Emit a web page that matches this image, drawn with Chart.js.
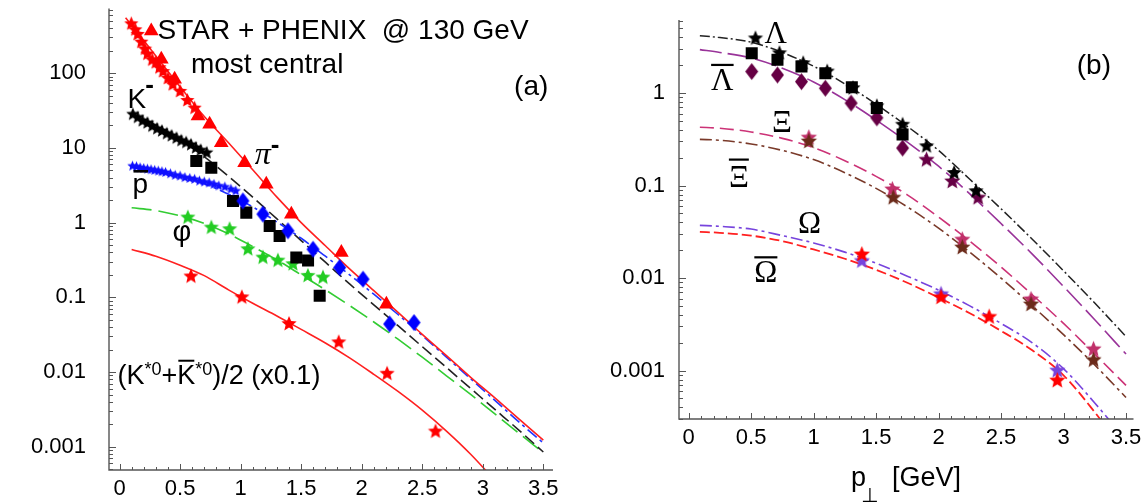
<!DOCTYPE html>
<html><head><meta charset="utf-8">
<script src="https://cdn.jsdelivr.net/npm/chart.js@4.4.0/dist/chart.umd.min.js"></script>
<style>
html,body{margin:0;padding:0;background:#fff;}
#wrap{position:relative;width:1142px;height:504px;overflow:hidden;}
.box{position:absolute;top:0;width:571px;height:504px;}
#ba{left:0;} #bb{left:571px;}
</style></head><body>
<div id="wrap"><div class="box" id="ba"><canvas id="ca" width="571" height="504"></canvas></div><div class="box" id="bb"><canvas id="cb" width="571" height="504"></canvas></div></div>
<script>
// ================= Panel (a) data =================
const xTickValuesA = [0, 0.5, 1, 1.5, 2, 2.5, 3, 3.5];
const xTickLabelsA = ['0', '0.5', '1', '1.5', '2', '2.5', '3', '3.5'];
const yTickValuesA = [0.001, 0.01, 0.1, 1, 10, 100];
const yTickLabelsA = ['0.001', '0.01', '0.1', '1', '10', '100'];

// pi- : stars (STAR) and triangles (PHENIX)
const piStarX = [0.097, 0.13, 0.15, 0.18, 0.21, 0.23, 0.27, 0.30, 0.33, 0.36, 0.40, 0.44, 0.50, 0.56, 0.62];
const piStarY = [457, 380, 330, 260, 210, 180, 150, 138, 118, 105, 85, 70, 57, 43, 34];
const piTriX = [0.262, 0.345, 0.455, 0.648, 0.744, 0.840, 1.033, 1.212, 1.419, 1.832, 2.204];
const piTriY = [366, 153, 82.6, 26.7, 20.7, 11.7, 6.34, 3.26, 1.29, 0.397, 0.081];
// K- : stars and squares
const kmStarX = [0.11, 0.15, 0.19, 0.23, 0.27, 0.31, 0.35, 0.39, 0.43, 0.47, 0.51, 0.55, 0.59, 0.63, 0.67, 0.72];
const kmStarY = [28.1, 25.5, 23, 21.5, 19.5, 18, 16.8, 15.5, 14.5, 13.5, 12.5, 11.8, 11, 10, 9.3, 8.6];
const kmSqX = [0.634, 0.758, 0.937, 1.047, 1.24, 1.322, 1.46, 1.557, 1.653];
const kmSqY = [6.68, 5.43, 1.95, 1.36, 0.90, 0.66, 0.34, 0.31, 0.105];
// anti-proton : stars and diamonds
const pbStarX = [0.107, 0.14, 0.17, 0.20, 0.23, 0.26, 0.29, 0.32, 0.35, 0.38, 0.42, 0.46, 0.50, 0.54, 0.58, 0.62, 0.66, 0.70, 0.74, 0.78, 0.82, 0.87, 0.92, 0.96];
const pbStarY = [5.7, 5.6, 5.4, 5.3, 5.2, 5.1, 5.0, 4.9, 4.8, 4.7, 4.5, 4.3, 4.2, 4.0, 3.9, 3.8, 3.6, 3.5, 3.4, 3.25, 3.1, 3.0, 2.8, 2.65];
const pbDiaX = [1.019, 1.184, 1.391, 1.598, 1.818, 2.011, 2.231, 2.432];
const pbDiaY = [1.95, 1.30, 0.775, 0.44, 0.25, 0.175, 0.044, 0.046];
// phi : stars
const phiStarX = [0.564, 0.758, 0.909, 1.06, 1.184, 1.308, 1.432, 1.556, 1.68];
const phiStarY = [1.17, 0.857, 0.816, 0.44, 0.34, 0.31, 0.278, 0.194, 0.184];
// K*0 : stars
const ksStarX = [0.59, 1.01, 1.40, 1.81, 2.21, 2.61];
const ksStarY = [0.19, 0.10, 0.044, 0.025, 0.0095, 0.0016];
// model curves (a)
const piCurveX = [0.05, 0.1, 0.3, 0.5, 0.7, 0.9, 1.1, 1.3, 1.5, 1.7, 1.9, 2.1, 2.3, 2.5, 2.7, 2.9, 3.1, 3.3, 3.5];
const piCurveY = [550, 437, 170, 66, 26.3, 11.7, 5.1, 2.19, 1.0, 0.49, 0.24, 0.123, 0.063, 0.032, 0.0166, 0.0085, 0.0045, 0.00234, 0.00123];
const curveXA = [0.1, 0.3, 0.5, 0.7, 0.9, 1.1, 1.3, 1.5, 1.7, 1.9, 2.1, 2.3, 2.5, 2.7, 2.9, 3.1, 3.3, 3.5];
const kmCurveY = [28.8, 20.0, 12.9, 7.59, 4.17, 2.19, 1.12, 0.575, 0.295, 0.151, 0.0794, 0.0417, 0.0219, 0.0115, 0.00603, 0.00316, 0.00166, 0.000851];
const pbCurveY = [5.75, 5.13, 4.27, 3.31, 2.40, 1.62, 1.02, 0.617, 0.355, 0.200, 0.110, 0.0589, 0.0309, 0.0158, 0.00813, 0.00417, 0.00214, 0.00112];
const phiCurveY = [1.58, 1.45, 1.23, 0.977, 0.708, 0.479, 0.316, 0.200, 0.126, 0.0776, 0.0468, 0.0275, 0.0158, 0.00891, 0.00501, 0.00275, 0.00151, 0.000832];
const ksCurveX = [0.1, 0.3, 0.5, 0.7, 0.9, 1.1, 1.3, 1.5, 1.7, 1.9, 2.1, 2.3, 2.5, 2.7, 2.9, 3.1];
const ksCurveY = [0.437, 0.355, 0.269, 0.195, 0.126, 0.0832, 0.0562, 0.0372, 0.0245, 0.0155, 0.00933, 0.0055, 0.00309, 0.00162, 0.000794, 0.000355];

// ================= Panel (b) data =================
const xTickValuesB = [0, 0.5, 1, 1.5, 2, 2.5, 3, 3.5];
const xTickLabelsB = ['0', '0.5', '1', '1.5', '2', '2.5', '3', '3.5'];
const yTickValuesB = [0.001, 0.01, 0.1, 1];
const yTickLabelsB = ['0.001', '0.01', '0.1', '1'];

const lamStarX = [0.535, 0.727, 0.917, 1.109, 1.315, 1.506, 1.712, 1.904, 2.125, 2.30];
const lamStarY = [3.9, 2.7, 2.1, 1.71, 1.13, 0.72, 0.455, 0.266, 0.137, 0.087];
const lamSqX = [0.505, 0.711, 0.903, 1.094, 1.306, 1.506, 1.712];
const lamSqY = [2.7, 2.3, 1.94, 1.64, 1.16, 0.69, 0.356];
const alamDiaX = [0.505, 0.711, 0.903, 1.094, 1.30, 1.506, 1.712];
const alamDiaY = [1.71, 1.57, 1.33, 1.13, 0.78, 0.54, 0.255];
const alamStarX = [1.904, 2.11, 2.317];
const alamStarY = [0.19, 0.111, 0.074];
const xiStarX = [0.962, 1.63, 2.19, 2.74, 3.24];
const xiStarY = [0.33, 0.091, 0.026, 0.0059, 0.0017];
const axiStarX = [0.962, 1.637, 2.19, 2.74, 3.24];
const axiStarY = [0.30, 0.074, 0.0214, 0.0052, 0.0013];
const omStarX = [1.386, 2.02, 2.95];
const omStarY = [0.0153, 0.0067, 0.001];
const aomStarX = [1.386, 2.02, 2.405, 2.95];
const aomStarY = [0.018, 0.0062, 0.0038, 0.00078];
const curveXB = [0.09, 0.25, 0.5, 0.75, 1.0, 1.25, 1.5, 1.75, 2.0, 2.25, 2.5, 2.75, 3.0, 3.25, 3.5];
const lamCurveY = [4.17, 3.98, 3.55, 2.75, 1.95, 1.26, 0.759, 0.437, 0.240, 0.117, 0.0562, 0.0263, 0.0120, 0.00537, 0.00234];
const alamCurveY = [2.95, 2.75, 2.40, 1.86, 1.32, 0.851, 0.513, 0.295, 0.162, 0.0813, 0.0389, 0.0182, 0.00813, 0.00355, 0.00151];
const xiCurveY = [0.427, 0.417, 0.380, 0.324, 0.257, 0.186, 0.126, 0.0794, 0.0457, 0.0251, 0.0132, 0.00661, 0.00324, 0.00151, 0.000692];
const axiCurveY = [0.316, 0.309, 0.282, 0.240, 0.191, 0.138, 0.0933, 0.0589, 0.0347, 0.0191, 0.0100, 0.00501, 0.00245, 0.00115, 0.000513];
const omCurveY = [0.0372, 0.0363, 0.0339, 0.0288, 0.0240, 0.0191, 0.0145, 0.0105, 0.00741, 0.00501, 0.00324, 0.00200, 0.00105, 0.000447, 0.000178];
const aomCurveY = [0.0316, 0.0309, 0.0288, 0.0251, 0.0204, 0.0162, 0.0123, 0.00891, 0.00617, 0.00417, 0.00269, 0.00166, 0.000891, 0.000355, 0.000126];

// ================= helpers =================
const SANS = '"Liberation Sans", Arial, sans-serif';
const SERIF = '"Liberation Serif", "Times New Roman", serif';
function pts(xs, ys) { return xs.map((x, i) => ({ x: x, y: ys[i] })); }
function starImg(color, d) {
  const c = document.createElement('canvas');
  c.width = c.height = Math.ceil(d) + 2;
  const g = c.getContext('2d');
  const cx = c.width / 2, cy = c.height / 2, R = d / 2, r = R * 0.45;
  g.beginPath();
  for (let i = 0; i < 10; i++) {
    const a = -Math.PI / 2 + i * Math.PI / 5, rr = (i % 2) ? r : R;
    g.lineTo(cx + rr * Math.cos(a), cy + rr * Math.sin(a));
  }
  g.closePath(); g.fillStyle = color; g.fill();
  return c;
}
function diamondImg(color, w, h) {
  const c = document.createElement('canvas');
  c.width = Math.ceil(w) + 2; c.height = Math.ceil(h) + 2;
  const g = c.getContext('2d');
  const cx = c.width / 2, cy = c.height / 2;
  g.beginPath(); g.moveTo(cx, cy - h / 2); g.lineTo(cx + w / 2, cy); g.lineTo(cx, cy + h / 2); g.lineTo(cx - w / 2, cy); g.closePath();
  g.fillStyle = color; g.fill();
  return c;
}
function lineDS(xs, ys, color, dash, width) {
  return { data: pts(xs, ys), showLine: true, borderColor: color, backgroundColor: color, borderWidth: width || 1.6,
    borderDash: dash || [], pointRadius: 0, tension: 0.4, cubicInterpolationMode: 'monotone', fill: false, order: 2 };
}
function markDS(xs, ys, style, color, radius) {
  return { data: pts(xs, ys), showLine: false, pointStyle: style, pointRadius: radius || 5, pointHoverRadius: radius || 5,
    backgroundColor: color, borderColor: color, borderWidth: 0, order: 1 };
}
function drawAxes(chart) {
  const ctx = chart.ctx, a = chart.chartArea, xs = chart.scales.x, ys = chart.scales.y;
  ctx.save();
  ctx.strokeStyle = '#555'; ctx.lineWidth = 1.4;
  ctx.beginPath(); ctx.moveTo(a.left, a.top); ctx.lineTo(a.left, a.bottom); ctx.lineTo(a.right, a.bottom); ctx.stroke();
  ctx.lineWidth = 1;
  const lo = Math.floor(Math.log10(ys.min)), hi = Math.ceil(Math.log10(ys.max));
  ctx.beginPath();
  for (let n = lo; n <= hi; n++) {
    for (let k = 1; k <= 9; k++) {
      const v = k * Math.pow(10, n);
      if (v < ys.min || v > ys.max) continue;
      const y = Math.round(ys.getPixelForValue(v)) + 0.5;
      const L = k === 1 ? 7 : 4;
      ctx.moveTo(a.left, y); ctx.lineTo(a.left + L, y);
    }
  }
  for (let i = 0; i <= 35; i++) {
    const v = i / 10;
    if (v > xs.max) break;
    const x = Math.round(xs.getPixelForValue(v)) + 0.5;
    const L = (i % 5 === 0) ? 6 : 3;
    ctx.moveTo(x, a.bottom); ctx.lineTo(x, a.bottom - L);
  }
  ctx.stroke();
  ctx.restore();
}
function zeroPad(s) { s.paddingTop = 0; s.paddingBottom = 0; s.paddingLeft = 0; s.paddingRight = 0; }
function scalesCfg(xmin, xmax, ymin, ymax, xv, xl, yv, yl, yw, xh, ypad) {
  return {
    x: { type: 'linear', min: xmin, max: xmax, grid: { display: false, drawTicks: false }, border: { display: false },
      afterBuildTicks: s => { s.ticks = xv.map(v => ({ value: v })); },
      ticks: { autoSkip: false, maxRotation: 0, padding: 6, color: '#000', font: { family: SANS, size: 22 }, callback: (v, i) => xl[i] },
      afterFit: s => { s.height = xh; zeroPad(s); } },
    y: { type: 'logarithmic', min: ymin, max: ymax, grid: { display: false, drawTicks: false }, border: { display: false },
      afterBuildTicks: s => { s.ticks = yv.map(v => ({ value: v })); },
      ticks: { autoSkip: false, padding: ypad, color: '#000', font: { family: SANS, size: 22 }, callback: (v, i) => yl[i] },
      afterFit: s => { s.width = yw; zeroPad(s); } }
  };
}
function txt(ctx, s, x, y, font, align) { ctx.font = font; ctx.textAlign = align || 'left'; ctx.fillText(s, x, y); return ctx.measureText(s).width; }
function P(chart, x, y) { return [chart.scales.x.getPixelForValue(x), chart.scales.y.getPixelForValue(y)]; }
function barOver(ctx, cx, y, w) { ctx.fillRect(cx - w / 2, y - 1, w, 2.2); }

// ================= Panel (a) =================
const labelsA = {
  id: 'labelsA',
  afterDraw(chart) {
    drawAxes(chart);
    const ctx = chart.ctx; ctx.save(); ctx.fillStyle = '#000'; ctx.textBaseline = 'alphabetic';
    let p = P(chart, 0.314, 283); txt(ctx, 'STAR + PHENIX  @ 130 GeV', p[0], p[1], '28px ' + SANS);
    p = P(chart, 1.219, 101); txt(ctx, 'most central', p[0], p[1], '28px ' + SANS, 'center');
    p = P(chart, 3.40, 65.2); ctx.textBaseline = 'middle'; txt(ctx, '(a)', p[0], p[1], '28px ' + SANS, 'center'); ctx.textBaseline = 'alphabetic';
    p = P(chart, 0.066, 34.5); let w = txt(ctx, 'K', p[0], p[1], '28px ' + SANS); txt(ctx, '-', p[0] + w - 1, p[1] - 15, 'bold 26px ' + SANS);
    p = P(chart, 1.116, 6.07); w = txt(ctx, 'π', p[0], p[1], 'italic 32px ' + SERIF); txt(ctx, '-', p[0] + w, p[1] - 11, 'bold 26px ' + SANS);
    p = P(chart, 0.107, 2.49); w = txt(ctx, 'p', p[0], p[1], '28px ' + SANS); ctx.fillRect(p[0] + 1, p[1] - 23, w - 1, 2.6);
    p = P(chart, 0.438, 0.569); txt(ctx, 'φ', p[0], p[1], '29px ' + SANS);
    p = P(chart, -0.0165, 0.00698);
    let x = p[0], y = p[1];
    const F = '27px ' + SANS, S = '18px ' + SANS;
    x += txt(ctx, '(K', x, y, F);
    x += txt(ctx, '*0', x, y - 9, S);
    x += txt(ctx, '+', x, y, F);
    const kw = txt(ctx, 'K', x, y, F); ctx.fillRect(x + 1, y - 24, kw - 2, 2); x += kw;
    x += txt(ctx, '*0', x, y - 9, S);
    txt(ctx, ')/2 (x0.1)', x, y, F);
    ctx.restore();
  }
};
new Chart(document.getElementById('ca'), {
  type: 'scatter',
  data: { datasets: [
    markDS(piStarX, piStarY, starImg('#ff0000', 15), '#ff0000'),
    markDS(piTriX, piTriY, 'triangle', '#ff0000', 8.5),
    markDS(pbStarX, pbStarY, starImg('#1010ff', 11), '#1010ff'),
    markDS(pbDiaX, pbDiaY, diamondImg('#0000ff', 13, 17), '#0000ff'),
    markDS(kmStarX, kmStarY, starImg('#000000', 14), '#000000'),
    markDS(kmSqX, kmSqY, 'rect', '#000000', 8.5),
    markDS(phiStarX, phiStarY, starImg('#22cc22', 16), '#22cc22'),
    markDS(ksStarX, ksStarY, starImg('#ff0000', 16), '#ff0000'),
    lineDS(piCurveX, piCurveY, '#ff2020', [], 1.6),
    lineDS(curveXA, pbCurveY, '#2233ff', [12, 4, 3, 4], 1.6),
    lineDS(curveXA, kmCurveY, '#222222', [12, 5], 1.6),
    lineDS(curveXA, phiCurveY, '#33cc33', [20, 7], 1.6),
    lineDS(ksCurveX, ksCurveY, '#ff2020', [], 1.6)
  ] },
  options: {
    responsive: false, animation: false, devicePixelRatio: 1,
    layout: { padding: { top: 8, right: 18, left: 0, bottom: 0 } },
    plugins: { legend: { display: false }, tooltip: { enabled: false } },
    scales: scalesCfg(-0.087, 3.58, 4.89e-4, 733, xTickValuesA, xTickLabelsA, yTickValuesA, yTickLabelsA, 109, 34, 23)
  },
  plugins: [labelsA]
});

// ================= Panel (b) =================
const labelsB = {
  id: 'labelsB',
  afterDraw(chart) {
    drawAxes(chart);
    const ctx = chart.ctx; ctx.save(); ctx.fillStyle = '#000'; ctx.textBaseline = 'alphabetic';
    const G = '31px ' + SERIF;
    let p = P(chart, 0.697, 3.48); txt(ctx, 'Λ', p[0], p[1], G, 'center');
    p = P(chart, 0.27, 1.085); let w = txt(ctx, 'Λ', p[0], p[1], G, 'center'); barOver(ctx, p[0], p[1] - 25, w);
    p = P(chart, 0.747, 0.383); txt(ctx, 'Ξ', p[0], p[1], G, 'center');
    p = P(chart, 0.402, 0.0978); w = txt(ctx, 'Ξ', p[0], p[1], G, 'center'); barOver(ctx, p[0], p[1] - 27, w);
    p = P(chart, 0.968, 0.031); txt(ctx, 'Ω', p[0], p[1], G, 'center');
    p = P(chart, 0.618, 0.00903); w = txt(ctx, 'Ω', p[0], p[1], G, 'center'); barOver(ctx, p[0], p[1] - 25, w);
    p = P(chart, 3.243, 1.97); ctx.textBaseline = 'middle'; txt(ctx, '(b)', p[0], p[1], '28px ' + SANS, 'center'); ctx.textBaseline = 'alphabetic';
    const a = chart.chartArea;
    const xp = chart.scales.x.getPixelForValue(1.3), yb = a.bottom + 67;
    w = txt(ctx, 'p', xp, yb, '27px ' + SANS);
    txt(ctx, '⊥', xp + 10, yb + 16, '20px "DejaVu Sans", sans-serif');
    txt(ctx, '[GeV]', xp + w + 26, yb, '27px ' + SANS);
    ctx.restore();
  }
};
new Chart(document.getElementById('cb'), {
  type: 'scatter',
  data: { datasets: [
    markDS(lamStarX, lamStarY, starImg('#000000', 16), '#000000'),
    markDS(lamSqX, lamSqY, 'rect', '#000000', 8.5),
    markDS(alamDiaX, alamDiaY, diamondImg('#660044', 13, 17), '#660044'),
    markDS(alamStarX, alamStarY, starImg('#660044', 17), '#660044'),
    markDS(axiStarX, axiStarY, starImg('#6b2a1a', 17), '#6b2a1a'),
    markDS(xiStarX, xiStarY, starImg('#c0306a', 17), '#c0306a'),
    markDS(aomStarX, aomStarY, starImg('#ff0000', 17), '#ff0000'),
    markDS(omStarX, omStarY, starImg('#7744dd', 17), '#7744dd'),
    lineDS(curveXB, lamCurveY, '#222222', [10, 3, 2, 3], 1.5),
    lineDS(curveXB, alamCurveY, '#993399', [22, 6], 1.6),
    lineDS(curveXB, xiCurveY, '#cc3377', [14, 6], 1.6),
    lineDS(curveXB, axiCurveY, '#7a3a2a', [12, 4, 3, 4], 1.6),
    lineDS(curveXB, omCurveY, '#7744dd', [12, 4, 3, 4], 1.6),
    lineDS(curveXB, aomCurveY, '#ff2020', [10, 4], 1.8)
  ] },
  options: {
    responsive: false, animation: false, devicePixelRatio: 1,
    layout: { padding: { top: 20, right: 5, left: 0, bottom: 0 } },
    plugins: { legend: { display: false }, tooltip: { enabled: false } },
    scales: scalesCfg(-0.077, 3.56, 3.07e-4, 6.17, xTickValuesB, xTickLabelsB, yTickValuesB, yTickLabelsB, 108, 85, 14)
  },
  plugins: [labelsB]
});
</script>
</body></html>
